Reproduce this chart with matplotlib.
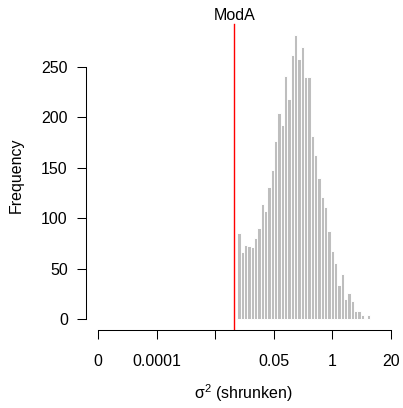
import matplotlib
matplotlib.use('Agg')
import matplotlib.pyplot as plt
import numpy as np

plt.rcParams['font.family'] = ['Liberation Sans', 'DejaVu Sans']
plt.rcParams['mathtext.fontset'] = 'custom'
plt.rcParams['mathtext.rm'] = 'Liberation Sans'
plt.rcParams['mathtext.it'] = 'Liberation Sans:italic'

# histogram counts (left to right)
counts = [85, 66, 73, 72, 71, 80, 90, 114, 107, 131,
          148, 177, 204, 192, 241, 218, 262, 282, 258, 270,
          240, 240, 182, 163, 140, 121, 111, 87, 67, 56,
          34, 45, 20, 26, 18, 8, 8, 4, 1, 4]
xtick_labels = ['0', '0.0001', '', '0.05', '1', '20']
ytick_values = [0, 50, 100, 150, 200, 250]
mod_label = 'ModA'

# axis is drawn on a transformed scale, ticks evenly spaced
xtick_pos = np.arange(len(xtick_labels))
BIN_START = 2.378      # left edge of first bin (transformed units)
BIN_WIDTH = 0.0568
MOD_X = 2.326
FS = 11.5

edges = BIN_START + BIN_WIDTH * np.arange(len(counts))

fig = plt.figure(figsize=(4.03, 4.08), dpi=100)
W, H = 403, 408
ax = fig.add_axes([86 / W, (H - 330) / H, 314 / W, 310 / H])

ax.bar(edges, counts, width=BIN_WIDTH, align='edge',
       color='#bebebe', edgecolor='white', linewidth=0.7)

ax.set_xlim(-0.2048, 5.1536)
ax.set_ylim(-10.91, 296.6)

ax.axvline(MOD_X, ymin=0, ymax=(330 - 24) / 310, color='red', lw=1.0)
ax.text(MOD_X, 301, mod_label, ha='center', va='center', fontsize=FS, clip_on=False)

for s in ['top', 'right']:
    ax.spines[s].set_visible(False)
ax.spines['left'].set_bounds(0, 250)
ax.spines['bottom'].set_bounds(0, 5)
for s in ['left', 'bottom']:
    ax.spines[s].set_linewidth(0.75)

ax.set_xticks(xtick_pos)
ax.set_xticklabels(xtick_labels)
ax.set_yticks(ytick_values)
ax.set_yticklabels([str(v) for v in ytick_values])
ax.tick_params(axis='both', direction='out', length=6.8, width=0.75, labelsize=FS)
ax.tick_params(axis='x', pad=10.2)
ax.tick_params(axis='y', pad=6.3)

ax.set_xlabel(r'$\mathregular{\sigma^2}$ (shrunken)', fontsize=FS, va='center')
ax.xaxis.set_label_coords(0.5, -0.203)
ax.set_ylabel('Frequency', fontsize=FS, va='center')
ax.yaxis.set_label_coords(-0.223, 0.5)

plt.savefig('out.png', dpi=100)
